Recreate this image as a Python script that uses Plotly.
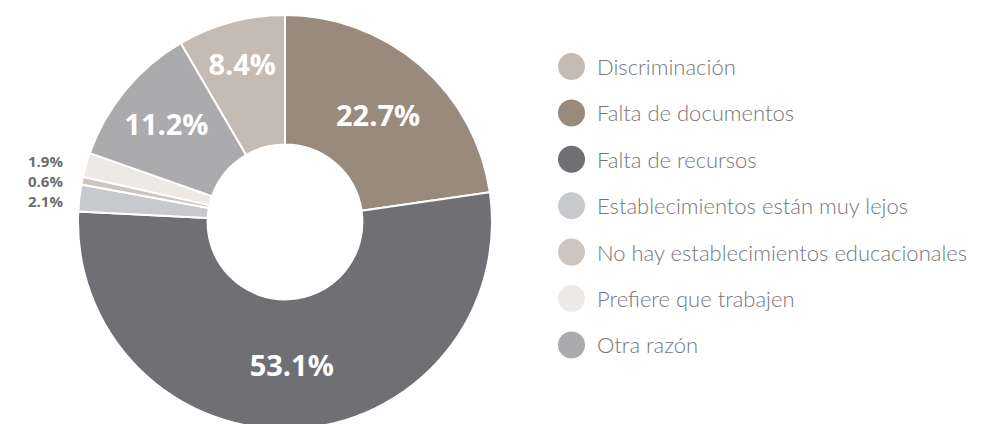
import plotly.graph_objects as go

categories = [
    "Discriminación",
    "Falta de documentos",
    "Falta de recursos",
    "Establecimientos están muy lejos",
    "No hay establecimientos educacionales",
    "Prefiere que trabajen",
    "Otra razón",
]
values = [8.4, 22.7, 53.1, 2.1, 0.6, 1.9, 11.2]
colors = ["#c4bbb5", "#9a8a7c", "#706f74", "#c8c9cc", "#cdc6c0", "#ede9e7", "#ababad"]

# small slices get their label outside, stacked on the left
small_order = [5, 4, 3]  # 1.9%, 0.6%, 2.1% from top to bottom
INSIDE_MIN = 5

W, H = 993, 424
OFF = 8  # page body margin
total = sum(values)
rotation = -values[0] / total * 360

texts = [f"{v:.1f}%" if v >= INSIDE_MIN else "" for v in values]

cxp, cyp, R = 285 - OFF, 222 - OFF, 207

fig = go.Figure()
fig.add_trace(go.Pie(
    labels=categories,
    values=values,
    sort=False,
    direction="clockwise",
    rotation=rotation,
    hole=0.374,
    marker=dict(colors=colors, line=dict(color="white", width=2)),
    text=texts,
    textinfo="text",
    textposition="inside",
    insidetextorientation="horizontal",
    insidetextfont=dict(family="Open Sans", size=29, color="white", weight="bold"),
    showlegend=False,
    domain=dict(x=[(cxp - R) / W, (cxp + R) / W],
                y=[1 - (cyp + R) / H, 1 - (cyp - R) / H]),
))

annotations = []
for k, idx in enumerate(small_order):
    annotations.append(dict(
        x=(65 - OFF) / W, y=1 - (161 - OFF + 20 * k) / H, xref="paper", yref="paper",
        xanchor="right", yanchor="middle", showarrow=False,
        text=f"{values[idx]:.1f}%",
        font=dict(family="Open Sans", size=15, color="#6d6e71", weight="bold"),
    ))

shapes = []
for i, (name, col) in enumerate(zip(categories, colors)):
    cy = 66.5 - OFF + 46.4 * i
    cx = 571.5 - OFF
    r = 13.5
    shapes.append(dict(
        type="circle", xref="paper", yref="paper",
        x0=(cx - r) / W, x1=(cx + r) / W,
        y0=1 - (cy + r) / H, y1=1 - (cy - r) / H,
        fillcolor=col, line=dict(width=0),
    ))
    annotations.append(dict(
        x=(595 - OFF) / W, y=1 - cy / H, xref="paper", yref="paper",
        xanchor="left", yanchor="middle", showarrow=False,
        text=name,
        font=dict(family="Lato", size=22, color="#77777a", weight=300),
    ))

fig.update_layout(
    width=W, height=H,
    margin=dict(l=0, r=0, t=0, b=0),
    paper_bgcolor="white",
    plot_bgcolor="white",
    annotations=annotations,
    shapes=shapes,
)

fig.write_html("out.html")
